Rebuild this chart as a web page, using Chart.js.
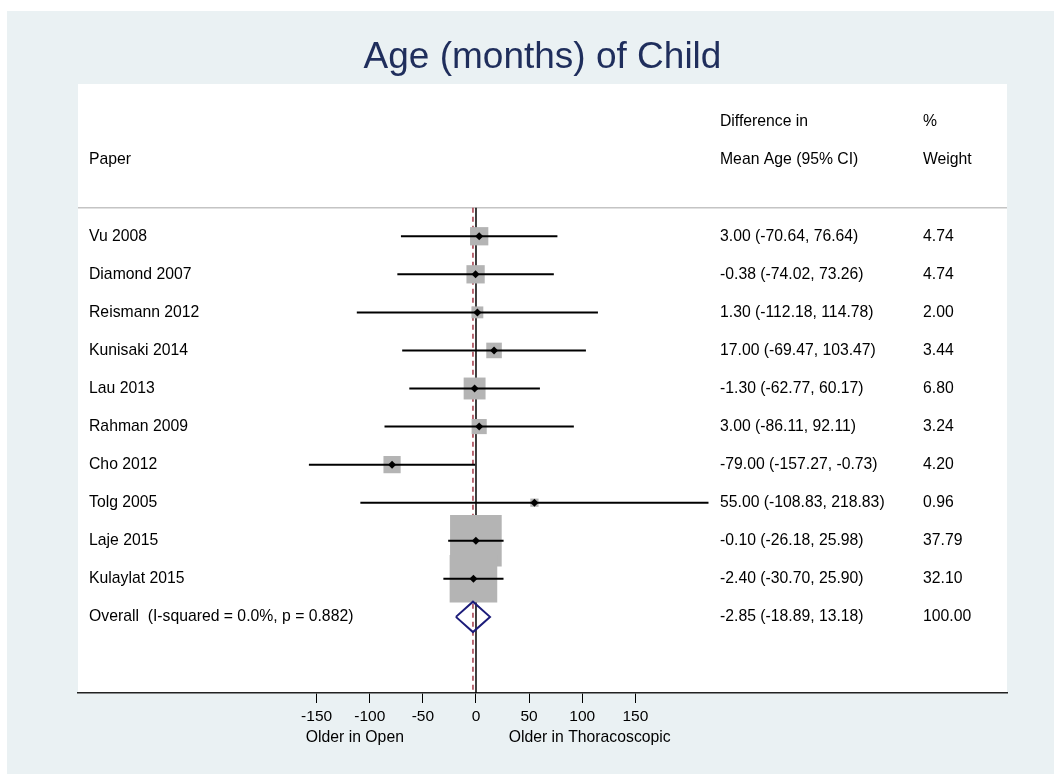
<!DOCTYPE html>
<html>
<head>
<meta charset="utf-8">
<script src="https://cdn.jsdelivr.net/npm/chart.js@4"></script>
<style>
  body { margin: 0; background: #fff; }
  canvas { display: block; }
</style>
</head>
<body>
<canvas id="forestChart" width="1057" height="774"></canvas>
<script>
// Study data
const papers = ['Vu 2008', 'Diamond 2007', 'Reismann 2012', 'Kunisaki 2014', 'Lau 2013',
  'Rahman 2009', 'Cho 2012', 'Tolg 2005', 'Laje 2015', 'Kulaylat 2015'];
const estimates = [3.00, -0.38, 1.30, 17.00, -1.30, 3.00, -79.00, 55.00, -0.10, -2.40];
const lowerCI = [-70.64, -74.02, -112.18, -69.47, -62.77, -86.11, -157.27, -108.83, -26.18, -30.70];
const upperCI = [76.64, 73.26, 114.78, 103.47, 60.17, 92.11, -0.73, 218.83, 25.98, 25.90];
const weights = [4.74, 4.74, 2.00, 3.44, 6.80, 3.24, 4.20, 0.96, 37.79, 32.10];

const overallLabel = 'Overall  (I-squared = 0.0%, p = 0.882)';
const overallValues = [-2.85, -18.89, 13.18]; // estimate, lower, upper
const overallWeight = 100;

const xTicks = [-150, -100, -50, 0, 50, 100, 150];
const favourLabels = ['Older in Open', 'Older in Thoracoscopic'];

const FONT = "'Liberation Sans', Arial, Helvetica, sans-serif";
const X_MIN = -374.6, X_MAX = 499.8;
const SEP_ROW = -0.75;
const overallRow = papers.length;

function fmt(v) { return v.toFixed(2); }
function ciText(e, lo, hi) { return fmt(e) + ' (' + fmt(lo) + ', ' + fmt(hi) + ')'; }

// datasets
const datasets = [];

// reference lines
datasets.push({
  data: [{ x: 0, y: SEP_ROW }, { x: 0, y: 12 }],
  showLine: true, borderColor: '#000', borderWidth: 1.5, pointRadius: 0, order: 5
});
datasets.push({
  data: [{ x: overallValues[0], y: SEP_ROW }, { x: overallValues[0], y: 12 }],
  showLine: true, borderColor: '#a33a48', borderWidth: 1.5, borderDash: [5, 4], pointRadius: 0, order: 5
});
datasets.push({
  data: [{ x: X_MIN, y: SEP_ROW }, { x: X_MAX, y: SEP_ROW }],
  showLine: true, borderColor: '#c4c4c4', borderWidth: 1.5, pointRadius: 0, order: 5
});

// weight boxes
datasets.push({
  data: estimates.map((e, i) => ({ x: e, y: i })),
  pointStyle: 'rect',
  pointRadius: weights.map(w => 8.4 * Math.sqrt(w) / Math.SQRT2),
  backgroundColor: '#b4b4b4', pointBorderWidth: 0, borderWidth: 0, order: 4
});

// confidence intervals
papers.forEach((p, i) => {
  datasets.push({
    data: [{ x: lowerCI[i], y: i }, { x: upperCI[i], y: i }],
    showLine: true, borderColor: '#000', borderWidth: 2, pointRadius: 0, order: 2
  });
});

// point estimates
datasets.push({
  data: estimates.map((e, i) => ({ x: e, y: i })),
  pointStyle: 'rectRot', pointRadius: 4,
  backgroundColor: '#000', pointBorderWidth: 0, borderWidth: 0, order: 1
});

// overall diamond
datasets.push({
  data: [
    { x: overallValues[1], y: overallRow },
    { x: overallValues[0], y: overallRow - 0.4 },
    { x: overallValues[2], y: overallRow },
    { x: overallValues[0], y: overallRow + 0.4 },
    { x: overallValues[1], y: overallRow }
  ],
  showLine: true, borderColor: '#1c1c7a', borderWidth: 2, pointRadius: 0, tension: 0, order: 1
});

const backgroundPlugin = {
  id: 'background',
  beforeDraw(chart) {
    const { ctx, chartArea } = chart;
    ctx.save();
    ctx.fillStyle = '#eaf1f3';
    ctx.fillRect(7, 11, 1047, 763);
    ctx.fillStyle = '#fff';
    ctx.fillRect(chartArea.left, chartArea.top, chartArea.right - chartArea.left, chartArea.bottom - chartArea.top);
    ctx.restore();
  }
};

const textPlugin = {
  id: 'forestText',
  afterDraw(chart) {
    const { ctx, chartArea, scales } = chart;
    const y = scales.y, x = scales.x;
    const colPaper = chartArea.left + 11;
    const colCI = 720, colW = 923;
    ctx.save();
    ctx.fillStyle = '#000';
    ctx.textBaseline = 'middle';
    ctx.textAlign = 'left';
    ctx.font = '15.75px ' + FONT;

    ctx.fillText('Paper', colPaper, y.getPixelForValue(-2));
    ctx.fillText('Difference in', colCI, y.getPixelForValue(-3));
    ctx.fillText('Mean Age (95% CI)', colCI, y.getPixelForValue(-2));
    ctx.fillText('%', colW, y.getPixelForValue(-3));
    ctx.fillText('Weight', colW, y.getPixelForValue(-2));

    papers.forEach((p, i) => {
      const py = y.getPixelForValue(i);
      ctx.fillText(p, colPaper, py);
      ctx.fillText(ciText(estimates[i], lowerCI[i], upperCI[i]), colCI, py);
      ctx.fillText(fmt(weights[i]), colW, py);
    });
    const oy = y.getPixelForValue(overallRow);
    ctx.fillText(overallLabel, colPaper, oy);
    ctx.fillText(ciText(overallValues[0], overallValues[1], overallValues[2]), colCI, oy);
    ctx.fillText(fmt(overallWeight), colW, oy);

    // favours labels under the axis
    ctx.textAlign = 'center';
    ctx.fillText(favourLabels[0], x.getPixelForValue(-114), 738);
    ctx.fillText(favourLabels[1], x.getPixelForValue(107), 738);

    // title
    ctx.fillStyle = '#1f2e5c';
    ctx.font = '37px ' + FONT;
    ctx.textBaseline = 'alphabetic';
    ctx.fillText('Age (months) of Child', (chartArea.left + chartArea.right) / 2, 68);
    ctx.restore();
  }
};

new Chart(document.getElementById('forestChart').getContext('2d'), {
  type: 'scatter',
  data: { datasets },
  options: {
    responsive: false,
    animation: false,
    layout: { padding: { left: 78, right: 50, top: 84, bottom: 0 } },
    plugins: { legend: { display: false }, tooltip: { enabled: false } },
    scales: {
      x: {
        type: 'linear', min: X_MIN, max: X_MAX, position: 'bottom',
        afterBuildTicks: s => { s.ticks = xTicks.map(v => ({ value: v })); },
        afterFit: s => { s.height = 81; },
        ticks: { font: { size: 15.5, family: FONT }, color: '#000', padding: 4, autoSkip: false, maxRotation: 0 },
        grid: { display: true, drawOnChartArea: false, drawTicks: true, tickLength: 10, color: '#000', lineWidth: 1 },
        border: { display: true, color: '#222', width: 1.5 }
      },
      y: { type: 'linear', min: -4, max: 12, reverse: true, display: false }
    }
  },
  plugins: [backgroundPlugin, textPlugin]
});
</script>
</body>
</html>
